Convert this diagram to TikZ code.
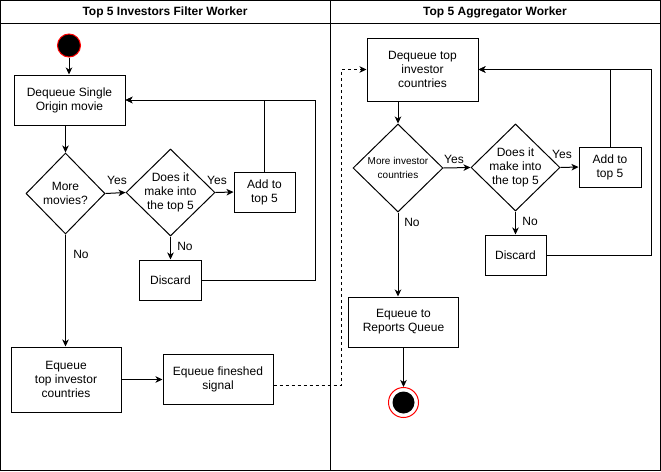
\documentclass[tikz,border=0pt]{standalone}
\usepackage{fontspec}
\setmainfont{Liberation Sans}
\usetikzlibrary{shapes.geometric,arrows.meta,calc}
\begin{document}
\begin{tikzpicture}[x=1pt,y=-1pt,line width=1pt,
  txt/.style={font=\fontsize{12}{14}\selectfont,align=center},
  box/.style={draw,txt,inner sep=0pt},
  dia/.style={draw,diamond,inner sep=0pt},
  lbl/.style={font=\fontsize{12}{14}\selectfont,inner sep=0pt},
  arr/.style={-{Stealth[length=7pt,width=6.5pt,inset=2pt]}},
  title/.style={font=\bfseries\fontsize{12}{14}\selectfont,inner sep=0pt}]
\useasboundingbox (0,0) rectangle (661,471);
% swimlanes
\draw (0.5,0.5) rectangle (660.5,470.5);
\draw (0.5,23) -- (660.5,23);
\draw (330.5,0.5) -- (330.5,470.5);
\node[title] (t1) at (165,12) {Top 5 Investors Filter Worker};
\node[title] (t2) at (495,12) {Top 5 Aggregator Worker};
% left lane
\node[circle,draw=red,fill=black,minimum size=23pt,inner sep=0pt] (start) at (69,45.5) {};
\node[box,minimum width=111pt,minimum height=50pt] (deq1) at (69.5,100) {Dequeue Single\\Origin movie};
\node[dia,minimum width=79pt,minimum height=81pt] (d1) at (65.5,193.5) {};
\node[txt] at (d1) {More\\movies?};
\node[dia,minimum width=89pt,minimum height=87pt] (d2) at (170.5,192.5) {};
\node[txt] at (d2) {Does it\\make into\\the top 5};
\node[box,minimum width=61pt,minimum height=40pt] (add1) at (264.5,192) {Add to\\top 5};
\node[box,minimum width=62pt,minimum height=40pt] (disc1) at (170.5,280) {Discard};
\node[box,minimum width=110pt,minimum height=65pt] (enq1) at (66,379.5) {Equeue\\top investor\\countries};
\node[box,minimum width=110pt,minimum height=50pt] (fin) at (218,379) {Equeue fineshed\\signal};
\coordinate (c1) at (315,280);
\coordinate (c3) at (341,385);
\draw[arr] (start) -- (start |- deq1.north);
\draw[arr] (d1.north |- deq1.south) -- (d1.north);
\draw[arr] (d1.east) -- (d2.west);
\node[lbl] (y1) at (117,180) {Yes};
\draw[arr] (d2.east) -- (add1.west);
\node[lbl] (y2) at (217,180) {Yes};
\draw[arr] (d2.south) -- (disc1.north);
\node[lbl] (n1) at (185,246) {No};
\draw[arr] (add1.north) |- (deq1.east);
\draw[arr] (disc1.east) -- (c1) |- (deq1.east);
\draw[arr] (d1.south) -- (d1.south |- enq1.north);
\node[lbl] (n2) at (81,254) {No};
\draw[arr] (enq1.east) -- (enq1.east -| fin.west);
% right lane
\node[box,minimum width=111pt,minimum height=63pt] (deq2) at (422.5,69.5) {Dequeue top\\investor\\countries};
\node[dia,minimum width=90pt,minimum height=88pt] (d3) at (398,168) {};
\node[txt,font=\fontsize{10}{14}\selectfont] at (d3) {More investor\\countries};
\node[dia,minimum width=89pt,minimum height=87pt] (d4) at (515.5,167.5) {};
\node[txt] at (d4) {Does it\\make into\\the top 5};
\node[box,minimum width=62pt,minimum height=40pt] (add2) at (610,167) {Add to\\top 5};
\node[box,minimum width=61pt,minimum height=40pt] (disc2) at (515.5,255) {Discard};
\node[box,minimum width=110pt,minimum height=50pt] (rep) at (403.5,322) {Equeue to\\Reports Queue};
\node[circle,draw=red,fill=white,minimum size=30pt,inner sep=0pt] (endc) at (403.5,402.5) {};
\node[circle,fill=black,minimum size=22pt,inner sep=0pt] (endi) at (endc) {};
\coordinate (c4) at (651,260);
\draw[arr,dashed,line width=0.8pt] ([yshift=-6pt]fin.east) -- (c3) |- (deq2.west);
\draw[arr] (d3.north |- deq2.south) -- (d3.north);
\draw[arr] (d3.east) -- (d4.west);
\node[lbl] (y3) at (454,159) {Yes};
\draw[arr] (d4.east) -- (add2.west);
\node[lbl] (y4) at (562,154) {Yes};
\draw[arr] (add2.north) |- (deq2.east);
\draw[arr] (d4.south) -- (disc2.north);
\node[lbl] (n3) at (530,221) {No};
\draw[arr] (disc2.east) -- (disc2.east -| c4) |- (deq2.east);
\draw[arr] (d3.south) -- (d3.south |- rep.north);
\node[lbl] (n4) at (412,222) {No};
\draw[arr] (rep.south) -- (endc.north);
\end{tikzpicture}
\end{document}
